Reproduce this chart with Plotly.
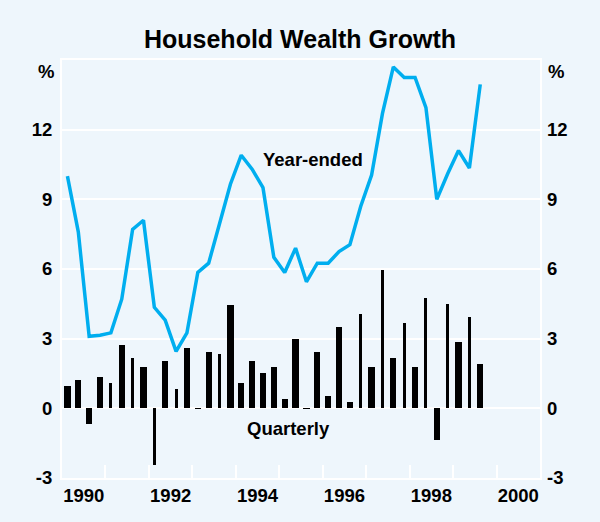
import plotly.graph_objects as go

# Quarterly dates (quarter mid-points), 1990 Q1 to 1999 Q3
start_year = 1990
n_quarters = 39
quarters = [start_year + 0.125 + 0.25 * i for i in range(n_quarters)]

# Year-ended growth (%)
year_ended = [10.0, 7.6, 3.1, 3.15, 3.25, 4.7, 7.7, 8.1, 4.35, 3.8, 2.45, 3.25,
              5.85, 6.25, 7.95, 9.65, 10.9, 10.3, 9.5, 6.5, 5.85, 6.9, 5.45,
              6.25, 6.25, 6.75, 7.05, 8.7, 10.05, 12.7, 14.7, 14.25, 14.25,
              12.95, 9.0, 10.1, 11.1, 10.35, 13.95]

# Quarterly growth (%)
quarterly = [0.95, 1.2, -0.68, 1.35, 1.1, 2.72, 2.17, 1.77, -2.45, 2.03, 0.82,
             2.58, 0.01, 2.43, 2.32, 4.46, 1.1, 2.03, 1.51, 1.77, 0.42, 2.99,
             0.01, 2.43, 0.55, 3.52, 0.26, 4.07, 1.77, 5.96, 2.16, 3.67, 1.77,
             4.74, -1.36, 4.48, 2.84, 3.93, 1.9]

y_ticks = [-3, 0, 3, 6, 9, 12]
y_tick_labels = ["-3", "0", "3", "6", "9", "12"]
x_label_years = [1990, 1992, 1994, 1996, 1998, 2000]
x_minor_ticks = list(range(1991, 2001))

# bar widths (style) mimicking the reference rendering
W, N = 0.145, 0.07
bar_widths = [W, W, W, W, N, W, N, W, N, W, N, W, W, W, N, W, W, W, W, W, W, W,
              W, W, W, W, W, N, W, N, W, N, W, N, W, N, W, N, W]

BG = "#eef6fc"
BLUE = "#00aeef"
FONT = "Arial, Liberation Sans, sans-serif"

fig = go.Figure()
fig.add_trace(go.Bar(x=quarters, y=quarterly, width=bar_widths,
                     marker=dict(color="black", line=dict(width=0)),
                     showlegend=False))
fig.add_trace(go.Scatter(x=quarters, y=year_ended, mode="lines",
                         line=dict(color=BLUE, width=3.5), showlegend=False))
# invisible trace on secondary x axis for inside tick marks
fig.add_trace(go.Scatter(x=[x_minor_ticks[0]], y=[0], xaxis="x2", yaxis="y",
                         mode="markers", marker=dict(opacity=0),
                         showlegend=False, hoverinfo="skip"))
# invisible trace for right axis
fig.add_trace(go.Scatter(x=[quarters[0]], y=[0], yaxis="y2",
                         mode="markers", marker=dict(opacity=0),
                         showlegend=False, hoverinfo="skip"))

tickfont = dict(family=FONT, size=18.5, color="black", weight="bold")

fig.update_layout(
    width=600, height=522,
    margin=dict(l=62, r=60, t=60, b=44, autoexpand=False),
    paper_bgcolor=BG, plot_bgcolor=BG,
    bargap=0,
    title=dict(text="Household Wealth Growth", x=0.5, xanchor="center",
               y=0.925, yanchor="middle",
               font=dict(family=FONT, size=25, color="black", weight="bold")),
    xaxis=dict(range=[1990, 2001], tickvals=[y + 0.5 for y in x_label_years],
               ticktext=[str(y) for y in x_label_years], ticks="",
               showgrid=False, zeroline=False, showline=True, mirror=True,
               linecolor="white", linewidth=2, tickfont=tickfont,
               automargin=False),
    xaxis2=dict(range=[1990, 2001], overlaying="x", side="bottom",
                tickvals=x_minor_ticks, ticks="inside", ticklen=13,
                tickcolor="white", tickwidth=2, showticklabels=False,
                showgrid=False, zeroline=False, showline=False,
                automargin=False),
    yaxis=dict(range=[-3, 15], tickvals=y_ticks, ticktext=y_tick_labels,
               ticks="", showgrid=True, gridcolor="white", gridwidth=1.5,
               zeroline=True, zerolinecolor="white", zerolinewidth=1.5,
               showline=True, mirror=True, linecolor="white", linewidth=2,
               tickfont=tickfont, ticklabelstandoff=4, automargin=False),
    yaxis2=dict(range=[-3, 15], tickvals=y_ticks, ticktext=y_tick_labels,
                overlaying="y", side="right",
                ticks="", showgrid=False, zeroline=False, showline=False,
                tickfont=tickfont, ticklabelstandoff=6, automargin=False),
)

annot_font = dict(family=FONT, size=18.5, color="black", weight="bold")
fig.add_annotation(x=1995.77, y=10.7, text="Year-ended", showarrow=False,
                   font=annot_font, xref="x", yref="y")
fig.add_annotation(x=1995.22, y=-0.85, text="Quarterly", showarrow=False,
                   font=annot_font, xref="x", yref="y")
fig.add_annotation(x=0, xref="paper", xshift=-6, xanchor="right", y=14.5, yref="y",
                   text="%", showarrow=False, font=tickfont)
fig.add_annotation(x=1, xref="paper", xshift=6, xanchor="left", y=14.5, yref="y",
                   text="%", showarrow=False, font=tickfont)

fig.write_html(
    "out.html",
    config={"displayModeBar": False},
    post_script="document.body.style.margin='0';"
                "document.body.style.background='" + BG + "';",
)
